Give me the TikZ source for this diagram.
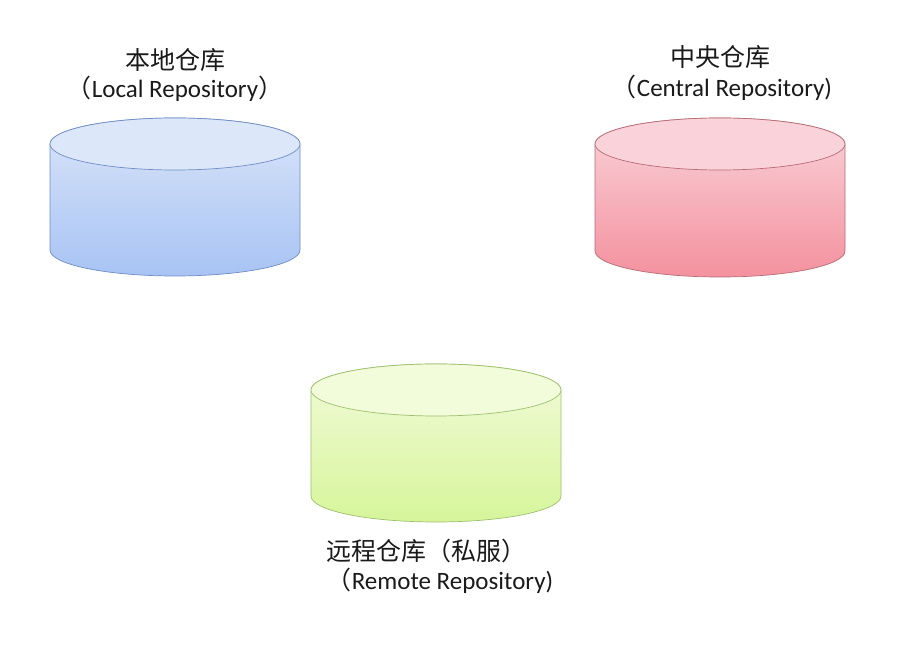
\documentclass[tikz,border=0pt]{standalone}
\usepackage{fontspec}
\setmainfont{Carlito}
\newfontfamily\cjk{Noto Sans CJK SC}
\usepackage{tikz}
\definecolor{ink}{HTML}{1A1A1A}
\definecolor{localtop}{HTML}{D9E5F9}
\definecolor{localbot}{HTML}{A8C3F4}
\definecolor{localcap}{HTML}{DCE7FA}
\definecolor{localline}{HTML}{6F8DC4}
\definecolor{centraltop}{HTML}{F9D3D9}
\definecolor{centralbot}{HTML}{F4919F}
\definecolor{centralcap}{HTML}{F9D3D9}
\definecolor{centralline}{HTML}{B56C76}
\definecolor{remotetop}{HTML}{F2FBDA}
\definecolor{remotebot}{HTML}{D6F59A}
\definecolor{remotecap}{HTML}{F2FBDA}
\definecolor{remoteline}{HTML}{9DBF6E}

\begin{document}
\begin{tikzpicture}[
x=1pt, y=1pt,
cn/.style={text=ink, font=\cjk\fontsize{25}{28}\selectfont, inner sep=0pt},
en/.style={text=ink, font=\fontsize{25}{28}\selectfont, inner sep=0pt}
]
\useasboundingbox (0,0) rectangle (919,659);
% cylinders: centre x, top y, bottom y, colour name
\foreach \cx/\ty/\by/\c in {175/515/409/local, 720/515/408/central, 436/269/163/remote}{
  \shade[top color=\c top, bottom color=\c bot, draw=\c line, line width=0.7pt]
    (\cx-125,\ty) -- (\cx-125,\by) arc[start angle=180, end angle=360, x radius=125, y radius=26]
    -- (\cx+125,\ty) arc[start angle=0, end angle=180, x radius=125, y radius=26] -- cycle;
  \fill[\c cap, draw=\c line, line width=0.7pt] (\cx,\ty) ellipse[x radius=125, y radius=26];
}
% labels
\node[cn] (localcn) at (175,599) {本地仓库};
\node[en] (localen) at (175,570) {{\cjk （}Local Repository{\cjk ）}};
\node[cn] (centralcn) at (720,602) {中央仓库};
\node[en] (centralen) at (722,571) {{\cjk （}Central Repository)};
\node[cn] (remotecn) at (426,108) {远程仓库（私服）};
\node[en] (remoteen) at (440,78) {{\cjk （}Remote Repository)};
\end{tikzpicture}
\end{document}
